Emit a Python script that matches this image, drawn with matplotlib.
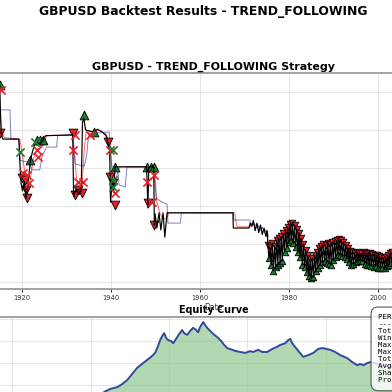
import matplotlib
matplotlib.use('Agg')
import matplotlib.pyplot as plt
from matplotlib.ticker import MultipleLocator, FormatStrFormatter
import numpy as np

# ---- price data (year, close) ----
# sparse early history
early_years = [1915.00, 1915.30, 1915.70, 1919.30, 1919.50, 1919.80, 1920.10, 1920.50, 1920.90, 1921.20,
               1921.60, 1921.90, 1922.40, 1922.80, 1923.30, 1924.00, 1924.60, 1925.30, 1931.20, 1931.40,
               1931.60, 1932.20, 1932.80, 1933.30, 1933.60, 1933.90, 1934.30, 1936.00, 1937.00, 1938.00,
               1938.90, 1939.30, 1939.70, 1939.90, 1940.30, 1940.60, 1940.90, 1948.00, 1948.30, 1948.50,
               1949.60, 1949.75, 1949.90, 1950.30, 1950.80, 1951.20, 1951.70, 1952.10, 1952.60, 1967.40,
               1967.50, 1971.00, 1971.30, 1971.70, 1972.00, 1972.40, 1972.80, 1973.20, 1973.60, 1974.00,
               1974.40, 1974.80, 1975.10]
early_close = [6.18, 4.92, 4.76, 4.76, 4.20, 3.60, 3.40, 3.65, 3.20, 3.45,
               3.85, 4.20, 4.45, 4.60, 4.68, 4.62, 4.70, 4.85, 4.87, 4.92,
               3.25, 3.45, 3.30, 3.40, 5.20, 5.30, 5.00, 4.95, 5.02, 4.95,
               4.85, 4.68, 4.45, 3.10, 3.70, 3.35, 4.03, 4.03, 2.95, 4.03,
               4.03, 2.50, 2.80, 2.42, 2.82, 2.37, 2.82, 2.18, 2.82, 2.82,
               2.42, 2.42, 2.55, 2.47, 2.62, 2.35, 2.55, 2.30, 2.50, 2.25,
               2.42, 2.20, 2.35]

# quarterly closes after the float (1975 Q2 .. 2006 Q1)
late_close = [1.98, 1.62, 1.92,
              1.45, 2.02, 1.30, 1.95,
              1.40, 2.10, 1.45, 2.15,
              1.50, 2.20, 1.55, 2.28,
              1.80, 2.38, 1.90, 2.45,
              2.05, 2.52, 2.10, 2.55,
              2.02, 2.50, 1.92, 2.40,
              1.78, 2.30, 1.65, 2.15,
              1.45, 2.00, 1.40, 1.85,
              1.25, 1.70, 1.15, 1.60,
              1.10, 1.62, 1.12, 1.70,
              1.28, 1.80, 1.38, 1.90,
              1.45, 1.95, 1.52, 2.00,
              1.55, 1.98, 1.50, 2.02,
              1.48, 2.00, 1.45, 2.05,
              1.58, 2.08, 1.65, 2.10,
              1.72, 2.12, 1.70, 2.10,
              1.68, 2.05, 1.65, 1.98,
              1.60, 1.90, 1.52, 1.82,
              1.45, 1.78, 1.48, 1.76,
              1.52, 1.78, 1.55, 1.76,
              1.56, 1.76, 1.55, 1.78,
              1.48, 1.76, 1.46, 1.75,
              1.44, 1.76, 1.42, 1.74,
              1.40, 1.72, 1.42, 1.70,
              1.38, 1.68, 1.36, 1.65,
              1.38, 1.64, 1.36, 1.66,
              1.42, 1.70, 1.45, 1.76,
              1.50, 1.80, 1.52, 1.82,
              1.55, 1.84, 1.56, 1.82,
              1.55, 1.80, 1.52, 1.78,
              1.60]
late_years = list(1975.25 + 0.25 * np.arange(len(late_close)))

# moving averages
fast_years = [1915.0, 1915.5, 1916.0, 1919.5, 1920.0, 1920.5, 1921.0, 1921.5, 1922.0, 1922.5,
              1923.0, 1923.5, 1924.5, 1925.0, 1925.6, 1931.3, 1931.8, 1932.3, 1932.8, 1933.5,
              1934.0, 1934.4, 1935.5, 1937.0, 1938.9, 1939.5, 1940.0, 1940.5, 1941.0, 1941.5,
              1942.0, 1948.3, 1949.5, 1949.9, 1950.3, 1950.7, 1951.0, 1951.5, 1952.5, 1953.0,
              1967.4, 1967.8, 1968.3, 1971.2, 1971.6, 1975.0, 1975.5]
fast_ma = [5.50, 5.00, 4.80, 4.76, 4.40, 4.00, 3.60, 3.50, 3.80, 4.20,
           4.40, 4.50, 4.55, 4.70, 4.85, 4.87, 4.30, 3.70, 3.40, 3.50,
           4.50, 4.95, 4.95, 5.00, 4.90, 4.70, 4.20, 3.60, 3.60, 3.90,
           4.03, 4.03, 4.00, 3.50, 3.10, 2.95, 2.80, 2.70, 2.65, 2.82,
           2.82, 2.82, 2.45, 2.45, 2.55, 2.35, 1.90]

slow_years = [1915.0, 1917.3, 1917.5, 1919.3, 1919.6, 1921.5, 1922.3, 1924.0, 1924.5, 1925.5,
              1927.8, 1928.0, 1931.5, 1932.0, 1934.0, 1934.5, 1935.0, 1939.6, 1940.2, 1941.5,
              1941.8, 1943.2, 1943.6, 1948.5, 1949.8, 1950.2, 1951.5, 1952.6, 1952.8, 1955.6,
              1955.8, 1967.5, 1967.6, 1971.2, 1971.4, 1972.0, 1972.5, 1973.0, 1973.5, 1974.0,
              1974.5, 1975.0, 1975.4]
slow_ma = [5.53, 5.53, 4.76, 4.76, 4.20, 4.15, 3.95, 3.95, 4.30, 4.55,
           4.55, 4.85, 4.87, 4.10, 4.05, 4.30, 4.90, 4.95, 4.03, 4.03,
           3.55, 3.50, 4.03, 4.03, 4.00, 3.20, 3.10, 3.05, 2.55, 2.55,
           2.82, 2.82, 2.63, 2.63, 2.45, 2.55, 2.40, 2.50, 2.35, 2.45,
           2.30, 2.35, 2.20]

# trade signals
buy_years = [1915.1, 1921.8, 1923.4, 1924.1, 1924.7, 1933.9, 1936.2, 1940.9, 1948.1, 1949.0, 1949.7]
buy_price = [6.18, 4.21, 4.74, 4.74, 4.74, 5.39, 4.95, 4.03, 4.03, 4.03, 4.03]
sell_years = [1915.1, 1920.0, 1920.7, 1921.0, 1921.1, 1931.5, 1931.9, 1932.6, 1933.5, 1939.3,
              1939.8, 1940.5, 1940.9, 1948.3, 1949.7]
sell_price = [4.92, 3.74, 3.68, 3.42, 3.21, 4.92, 3.29, 3.42, 3.34, 4.68,
              3.76, 3.61, 3.03, 3.08, 2.50]
stop_years = [1915.3, 1920.3, 1921.1, 1921.5, 1923.4, 1923.6, 1931.9, 1931.5, 1932.6, 1933.7,
              1935.3, 1939.8, 1940.9, 1948.1, 1949.7, 1949.3]
stop_price = [6.05, 3.87, 3.82, 3.61, 4.47, 4.29, 4.87, 4.47, 3.63, 3.63,
              4.87, 4.47, 3.34, 3.63, 3.82, 3.10]
target_years = [1919.6, 1923.0, 1940.4, 1940.5, 1940.5]
target_price = [4.42, 4.68, 4.47, 3.68, 3.50]

# equity curve (bar index, account value)
eq_bar = [0, 714, 1479, 2117, 2346, 2499, 2678, 2805, 2933, 3060, 3188, 3315, 3443, 3545, 3647,
          3723, 3774, 3825, 3876, 3927, 3978, 4055, 4106, 4182, 4259, 4335, 4386, 4463, 4539,
          4616, 4692, 4743, 4794, 4871, 4922, 4973, 5049, 5126, 5228, 5330, 5406, 5483, 5610,
          5712, 5814, 5942, 6069, 6146, 6273, 6375, 6503, 6630, 6732, 6834, 6962, 7038, 7089,
          7140, 7217, 7319, 7421, 7548, 7676, 7803, 7905, 8007, 8109, 8237, 8364, 8466, 8543,
          8670, 8798, 8874, 8951, 9053, 9129, 9257, 9384, 9537, 9690, 9894, 10404]
eq_value = [10000, 11100, 13400, 16600, 18400, 19100, 19500, 20200, 21100, 22500, 23900, 24800,
            25700, 26400, 27300, 28900, 30200, 31100, 31800, 30700, 30200, 30000, 29500, 30500,
            31600, 32500, 31800, 31400, 32300, 33000, 32500, 32000, 33200, 34300, 33600, 33000,
            32300, 31600, 30900, 30000, 29100, 28400, 28000, 27700, 27500, 27300, 27700, 27500,
            28000, 27500, 27500, 28200, 28600, 29100, 29500, 30200, 30500, 29500, 28600, 27500,
            26400, 26800, 27300, 28200, 28400, 28200, 28000, 27500, 26800, 26400, 26100, 25200,
            24500, 24800, 24500, 25000, 25200, 25000, 24500, 24300, 24100, 23900, 23000]
initial_capital = 10000

metrics = ("PERFORMANCE METRICS\n"
           "-------------------\n"
           "Total Return:  141.00%\n"
           "Win Rate:       38.20%\n"
           "Max Drawdown:  -32.10%\n"
           "Max Win:      $1,845.20\n"
           "Total Trades:     2174\n"
           "Avg Trade:       $6.49\n"
           "Sharpe Ratio:     0.21\n"
           "Profit Factor:    1.08")

price_years = early_years + late_years
price_close = early_close + late_close

fig = plt.figure(figsize=(3.92, 3.92), dpi=100)
fig.text(0.518, 0.9617, 'GBPUSD Backtest Results - TREND_FOLLOWING',
         ha='center', va='baseline', fontsize=8.9, fontweight='bold')

ax1 = fig.add_axes([-0.0765, 0.2628, 1.2423, 0.551])
ax2 = fig.add_axes([-0.0765, -0.199, 1.2423, 0.3903])

# price panel
ax1.plot(price_years, price_close, color='black', lw=0.85, zorder=6)
ax1.plot(fast_years, fast_ma, color='red', lw=0.7, alpha=0.6, zorder=2)
ax1.plot(slow_years, slow_ma, color='#2b2b9b', lw=0.7, alpha=0.6, zorder=2)
ax1.scatter(buy_years, buy_price, marker='^', s=40, color='#1e7d32', edgecolors='black', linewidths=0.6, zorder=5)
ax1.scatter(sell_years, sell_price, marker='v', s=40, color='#e8202a', edgecolors='black', linewidths=0.6, zorder=5)
ax1.scatter(stop_years, stop_price, marker='x', s=35, color='#e8202a', linewidths=1.2, zorder=7)
ax1.scatter(target_years, target_price, marker='x', s=35, color='#1e7d32', linewidths=1.2, zorder=7)
ax1.scatter(late_years[0::2], late_close[0::2], marker='v', s=22, color='#e8202a', edgecolors='black', linewidths=0.6, zorder=5)
ax1.scatter(late_years[1::2], late_close[1::2], marker='^', s=22, color='#1e7d32', edgecolors='black', linewidths=0.6, zorder=5)

ax1.set_xlim(1908.32, 2017.76)
ax1.set_ylim(0.816, 6.5)
ax1.xaxis.set_major_locator(MultipleLocator(20))
ax1.xaxis.set_major_formatter(FormatStrFormatter('%d'))
ax1.yaxis.set_major_locator(MultipleLocator(1))
ax1.set_title('GBPUSD - TREND_FOLLOWING Strategy', fontsize=7.9, fontweight='bold', pad=2.6)
ax1.set_xlabel('Date', fontsize=5.5, color='#333333', labelpad=1.5)
ax1.grid(True, alpha=0.3)
ax1.tick_params(labelsize=4.9, labelcolor='#333333', length=2.2, width=0.6, pad=2.0, labelleft=False)

# equity panel
ax2.fill_between(eq_bar, eq_value, initial_capital, color='green', alpha=0.3, lw=0)
ax2.plot(eq_bar, eq_value, color='#34489e', lw=1.4)
ax2.set_xlim(-1070, 11338)
ax2.set_ylim(680, 35455)
ax2.xaxis.set_major_locator(MultipleLocator(2000))
ax2.yaxis.set_major_locator(MultipleLocator(5000))
ax2.set_title('Equity Curve', fontsize=6.9, fontweight='bold', pad=3.2)
ax2.grid(True, alpha=0.3)
ax2.tick_params(labelbottom=False, labelleft=False)

for ax in (ax1, ax2):
    for sp in ax.spines.values():
        sp.set_color('#9a9a9a')
        sp.set_linewidth(1.3)

fig.text(0.9653, 0.198, metrics, ha='left', va='top', fontsize=5.3, family='monospace',
         bbox=dict(boxstyle='round,pad=1.0', facecolor='white', edgecolor='#333333', alpha=0.8, lw=0.8))

fig.savefig('out.png', dpi=100)
